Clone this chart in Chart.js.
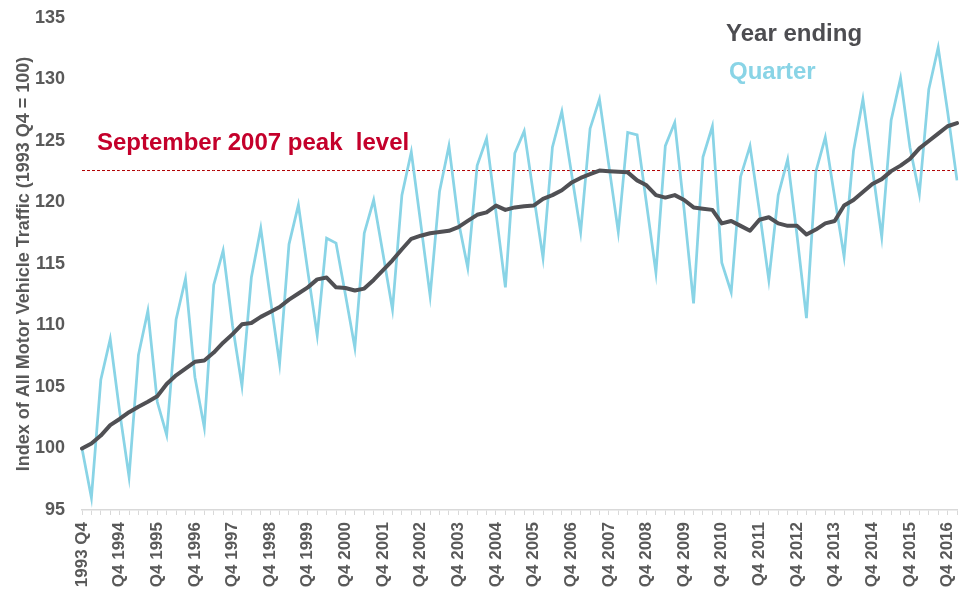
<!DOCTYPE html>
<html>
<head>
<meta charset="utf-8">
<script src="https://cdn.jsdelivr.net/npm/chart.js@4.4.1/dist/chart.umd.min.js"></script>
<style>
  html, body { margin: 0; padding: 0; background: #fff; }
  #wrap { width: 967px; height: 591px; }
</style>
</head>
<body>
<div id="wrap"><canvas id="trafficChart" width="967" height="591"></canvas></div>
<script>
// Categories: quarters from 1993 Q4 to 2017 Q1
const quarters = [
  '1993 Q4',
  'Q1 1994', 'Q2 1994', 'Q3 1994', 'Q4 1994',
  'Q1 1995', 'Q2 1995', 'Q3 1995', 'Q4 1995',
  'Q1 1996', 'Q2 1996', 'Q3 1996', 'Q4 1996',
  'Q1 1997', 'Q2 1997', 'Q3 1997', 'Q4 1997',
  'Q1 1998', 'Q2 1998', 'Q3 1998', 'Q4 1998',
  'Q1 1999', 'Q2 1999', 'Q3 1999', 'Q4 1999',
  'Q1 2000', 'Q2 2000', 'Q3 2000', 'Q4 2000',
  'Q1 2001', 'Q2 2001', 'Q3 2001', 'Q4 2001',
  'Q1 2002', 'Q2 2002', 'Q3 2002', 'Q4 2002',
  'Q1 2003', 'Q2 2003', 'Q3 2003', 'Q4 2003',
  'Q1 2004', 'Q2 2004', 'Q3 2004', 'Q4 2004',
  'Q1 2005', 'Q2 2005', 'Q3 2005', 'Q4 2005',
  'Q1 2006', 'Q2 2006', 'Q3 2006', 'Q4 2006',
  'Q1 2007', 'Q2 2007', 'Q3 2007', 'Q4 2007',
  'Q1 2008', 'Q2 2008', 'Q3 2008', 'Q4 2008',
  'Q1 2009', 'Q2 2009', 'Q3 2009', 'Q4 2009',
  'Q1 2010', 'Q2 2010', 'Q3 2010', 'Q4 2010',
  'Q1 2011', 'Q2 2011', 'Q3 2011', 'Q4 2011',
  'Q1 2012', 'Q2 2012', 'Q3 2012', 'Q4 2012',
  'Q1 2013', 'Q2 2013', 'Q3 2013', 'Q4 2013',
  'Q1 2014', 'Q2 2014', 'Q3 2014', 'Q4 2014',
  'Q1 2015', 'Q2 2015', 'Q3 2015', 'Q4 2015',
  'Q1 2016', 'Q2 2016', 'Q3 2016', 'Q4 2016',
  'Q1 2017'
];

// Quarterly index (1993 Q4 = 100)
const quarterIndex = [
  100.0,
  96.0, 105.6, 108.9, 103.0,
  97.7, 107.6, 111.2, 103.8,
  101.1, 110.5, 113.8, 105.8,
  101.7, 113.3, 116.1, 110.0,
  105.1, 113.9, 117.9, 112.3,
  106.9, 116.6, 119.8, 114.4,
  109.2, 117.1, 116.7, 112.5,
  108.2, 117.5, 120.2, 115.8,
  111.3, 120.6, 124.1, 118.3,
  112.4, 120.9, 124.6, 118.5,
  114.7, 123.0, 125.2, 119.2,
  113.1, 124.0, 125.8, 120.6,
  115.5, 124.5, 127.4, 122.5,
  117.6, 126.0, 128.4, 123.0,
  117.6, 125.7, 125.5, 119.9,
  114.3, 124.6, 126.5, 119.4,
  111.8, 123.7, 126.2, 115.1,
  112.7, 122.1, 124.6, 119.3,
  113.7, 120.6, 123.5, 117.3,
  110.6, 122.5, 125.3, 120.4,
  115.6, 124.2, 128.4, 122.8,
  117.2, 126.7, 130.1, 124.5,
  120.7, 129.2, 132.6, 127.4,
  121.8
];

// Rolling year ending index (1993 Q4 = 100)
const yearEndingIndex = [
  100.0,
  100.4, 101.05, 101.9, 102.4,
  102.95, 103.4, 103.8, 104.25,
  105.25, 105.95, 106.5, 107.05,
  107.15, 107.8, 108.6, 109.3,
  110.1, 110.2, 110.7, 111.1,
  111.5, 112.1, 112.6, 113.1,
  113.75, 113.9, 113.1, 113.05,
  112.85, 113.0, 113.7, 114.5,
  115.3, 116.2, 117.05, 117.3,
  117.5, 117.6, 117.7, 118.0,
  118.5, 119.0, 119.2, 119.75,
  119.4, 119.6, 119.7, 119.75,
  120.3, 120.6, 121.0, 121.6,
  122.0, 122.3, 122.6, 122.55,
  122.5, 122.45, 121.8, 121.4,
  120.6, 120.4, 120.6, 120.2,
  119.6, 119.5, 119.4, 118.3,
  118.5, 118.1, 117.7, 118.6,
  118.8, 118.3, 118.1, 118.1,
  117.4, 117.8, 118.3, 118.5,
  119.75, 120.2, 120.85, 121.5,
  121.9, 122.55, 123.0, 123.55,
  124.4, 125.0, 125.6, 126.2,
  126.45
];

const yTicks = [95, 100, 105, 110, 115, 120, 125, 130, 135];

// September 2007 = Q3 2007 year ending value
const peakLevel = yearEndingIndex[quarters.indexOf('Q3 2007')];

const fontFamily = '"Liberation Sans", Arial, Helvetica, sans-serif';
const axisGrey = '#595959';

// Free text: peak label and the two-line legend
const chartText = {
    id: 'chartText',
    afterDatasetsDraw(chart) {
        const ctx = chart.ctx;
        ctx.save();
        ctx.font = 'bold 24px ' + fontFamily;
        ctx.textBaseline = 'alphabetic';
        ctx.textAlign = 'left';

        ctx.fillStyle = '#c4002b';
        ctx.fillText('September 2007 peak  level', 97, 150);

        ctx.fillStyle = '#4d4d51';
        ctx.fillText('Year ending', 726, 41);

        ctx.fillStyle = '#89d4e6';
        ctx.fillText('Quarter', 729, 79);
        ctx.restore();
    }
};

new Chart(document.getElementById('trafficChart'), {
    type: 'line',
    data: {
        labels: quarters,
        datasets: [
            {
                label: 'Year ending',
                data: yearEndingIndex,
                borderColor: '#505054',
                borderWidth: 4,
                borderJoinStyle: 'round',
                borderCapStyle: 'round',
                pointRadius: 0,
                tension: 0,
                fill: false
            },
            {
                label: 'Quarter',
                data: quarterIndex,
                borderColor: '#89d4e6',
                borderWidth: 2.75,
                borderJoinStyle: 'miter',
                pointRadius: 0,
                tension: 0,
                fill: false
            },
            {
                label: 'September 2007 peak level',
                data: quarters.map(() => peakLevel),
                borderColor: '#b00000',
                borderWidth: 1,
                borderDash: [3, 2],
                pointRadius: 0,
                fill: false
            }
        ]
    },
    options: {
        responsive: false,
        devicePixelRatio: 1,
        animation: false,
        layout: {
            padding: { top: 18, right: 10, bottom: 0, left: 0 }
        },
        plugins: {
            legend: { display: false },
            tooltip: { enabled: false }
        },
        scales: {
            x: {
                type: 'category',
                offset: false,
                grid: {
                    display: true,
                    drawOnChartArea: false,
                    drawTicks: true,
                    tickLength: 5,
                    color: '#d9d9d9'
                },
                border: { display: true, color: '#d9d9d9', width: 1.5 },
                ticks: {
                    autoSkip: false,
                    minRotation: 90,
                    maxRotation: 90,
                    padding: 7,
                    color: axisGrey,
                    font: { family: fontFamily, size: 17, weight: 'bold' },
                    callback: function(value, index) {
                        return index % 4 === 0 ? quarters[index] : '';
                    }
                },
                afterFit: function(scale) {
                    scale.height = 81;
                    scale.paddingLeft = 0;
                    scale.paddingRight = 0;
                }
            },
            y: {
                min: 95,
                max: 135,
                afterBuildTicks: function(scale) {
                    scale.ticks = yTicks.map(v => ({ value: v }));
                },
                grid: { display: false, drawTicks: false },
                border: { display: false },
                ticks: {
                    padding: 17,
                    color: axisGrey,
                    font: { family: fontFamily, size: 18, weight: 'bold' }
                },
                title: {
                    display: true,
                    text: 'Index of All Motor Vehicle Traffic (1993 Q4 = 100)',
                    color: axisGrey,
                    font: { family: fontFamily, size: 18, weight: 'bold' },
                    padding: { top: 13, bottom: 0 }
                },
                afterFit: function(scale) {
                    scale.width = 82;
                    scale.paddingTop = 0;
                    scale.paddingBottom = 0;
                }
            }
        }
    },
    plugins: [chartText]
});
</script>
</body>
</html>
